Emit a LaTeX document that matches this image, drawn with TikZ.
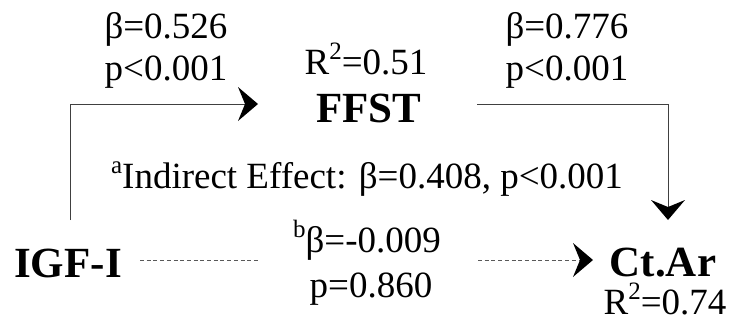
\documentclass[tikz,border=0pt]{standalone}
\usepackage{fontspec}
\setmainfont{Liberation Serif}
\usetikzlibrary{calc}
\newcommand{\supr}[1]{\raisebox{0.38em}{\fontsize{25}{25}\selectfont #1}}
\tikzset{
  lbl/.style={anchor=base, inner sep=0pt, font=\fontsize{37}{42}\selectfont},
  var/.style={anchor=base, inner sep=0pt, font=\fontsize{43}{48}\selectfont\bfseries},
  path/.style={draw=black!75, line width=1pt},
  dpath/.style={draw=black!65, line width=1pt, dash pattern=on 4pt off 2.7pt},
}
\newcommand{\headR}[1]{\fill[black] (#1) -- ++(-20,-17) -- ++(7,17) -- ++(-7,17) -- cycle;}
\newcommand{\headD}[1]{\fill[black] (#1) -- ++(-17,-20) -- ++(17,7) -- ++(17,-7) -- cycle;}
\begin{document}
\begin{tikzpicture}[x=1pt, y=-1pt]
\useasboundingbox (0,0) rectangle (729,327);
% variables
\node[var] (igf) at (68,277) {IGF-I};
\node[var] (ffst) at (369,122) {FFST};
\node[var] (ctar) at (663,276) {Ct.Ar};
% labels
\node[lbl] (b1) at (166,38) {β=0.526};
\node[lbl] (p1) at (166,80) {p<0.001};
\node[lbl] (r1) at (366,74) {R\supr{2}=0.51};
\node[lbl] (b2) at (567,38) {β=0.776};
\node[lbl] (p2) at (567,80) {p<0.001};
\node[lbl] (ind) at (367,188) {\supr{a}Indirect Effect: β=0.408, p<0.001};
\node[lbl] (b3) at (367,252) {\supr{b}β=-0.009};
\node[lbl] (p3) at (371,297) {p=0.860};
\node[lbl] (r2) at (665,314) {R\supr{2}=0.74};
% connector points
\coordinate (s1) at (70,220);
\coordinate (e1) at (258,104);
\coordinate (s2) at (477,104);
\coordinate (e2) at (668,220);
\coordinate (d1a) at (140,260);
\coordinate (d1b) at (258,260);
\coordinate (d2a) at (478,260);
\coordinate (d2b) at (593,260);
% connectors
\draw[path] (s1) |- ($(e1)+(-12,0)$);
\headR{e1}
\draw[path] (s2) -| ($(e2)+(0,-12)$);
\headD{e2}
\draw[dpath] (d1a) -- (d1b);
\draw[dpath] (d2a) -- ($(d2b)+(-12,0)$);
\headR{d2b}
\end{tikzpicture}
\end{document}
